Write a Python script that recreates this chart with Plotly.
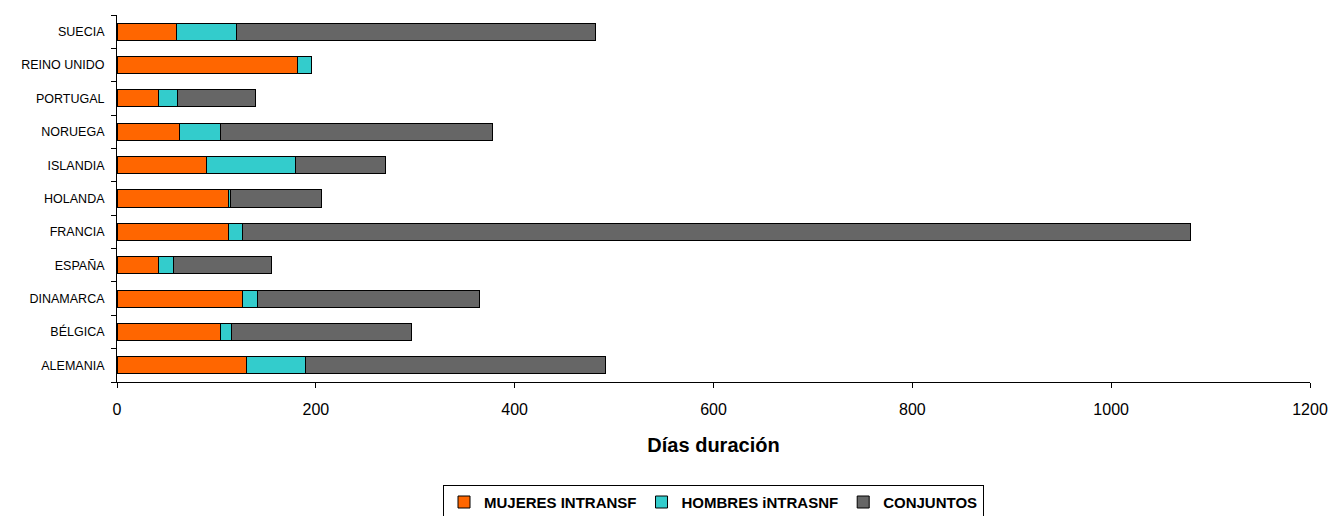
import plotly.graph_objects as go

countries = ["ALEMANIA", "BÉLGICA", "DINAMARCA", "ESPAÑA", "FRANCIA", "HOLANDA",
             "ISLANDIA", "NORUEGA", "PORTUGAL", "REINO UNIDO", "SUECIA"]
mujeres = [130, 104, 126, 42, 112, 112, 90, 63, 42, 182, 60]
hombres = [60, 11, 15, 15, 14, 2, 90, 41, 19, 14, 60]
conjuntos = [301, 181, 224, 98, 954, 92, 90, 274, 78, 0, 361]

series_names = ["MUJERES INTRANSF", "HOMBRES iNTRASNF", "CONJUNTOS"]
colors = ["#FF6600", "#33CCCC", "#666666"]
x_ticks = [0, 200, 400, 600, 800, 1000, 1200]

fig = go.Figure()
for name, vals, col in zip(series_names, [mujeres, hombres, conjuntos], colors):
    fig.add_trace(go.Bar(
        y=countries, x=vals, name=name, orientation="h",
        marker=dict(color=col, line=dict(color="#000000", width=1)),
    ))

fig.update_layout(
    barmode="stack",
    bargap=0.49,
    width=1333, height=516,
    margin=dict(l=117, r=23, t=15, b=134, autoexpand=False),
    plot_bgcolor="white", paper_bgcolor="white",
    font=dict(family="Liberation Sans, Arial, sans-serif", color="#000000"),
    showlegend=True,
    legend=dict(
        orientation="h", x=0.5, xanchor="center", y=-0.28, yanchor="top",
        bordercolor="#000000", borderwidth=1,
        font=dict(size=15, family="Liberation Sans, Arial, sans-serif", weight="bold"),
        traceorder="normal", itemwidth=30, tracegroupgap=0,
    ),
    xaxis=dict(
        range=[0, 1200], tickvals=x_ticks,
        showgrid=False, zeroline=False,
        showline=True, linecolor="#000000", linewidth=1,
        ticks="outside", ticklen=5, tickcolor="#000000",
        tickfont=dict(size=16), ticklabelstandoff=8, ticklabeloverflow="allow",
        title=dict(text="Días duración", font=dict(size=20, weight="bold"), standoff=20),
    ),
    yaxis=dict(
        showgrid=False, zeroline=False,
        showline=True, linecolor="#000000", linewidth=1,
        ticks="outside", ticklen=5, tickcolor="#000000", tickson="boundaries",
        tickfont=dict(size=12.5), ticklabelstandoff=9,
        categoryorder="array", categoryarray=countries,
    ),
)

fig.write_html(
    "out.html",
    config={"displayModeBar": False},
    post_script="document.body.style.margin='0';document.body.style.overflow='hidden';",
)
